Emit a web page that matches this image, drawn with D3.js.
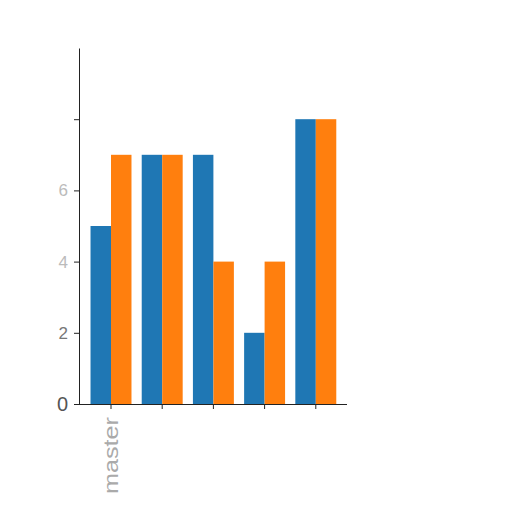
<!DOCTYPE html>
<html>
<head>
<meta charset="utf-8">
<script src="https://d3js.org/d3.v7.min.js"></script>
<style>
  body { margin: 0; background: #fff; }
  svg { display: block; }
</style>
</head>
<body>
<svg class="chart" width="512" height="512"></svg>
<script>
// Chart data
var categories = ["master", "g2", "g3", "g4", "g5"];
var categoryLabels = ["master", "", "", "", ""];
var seriesNames = ["a", "b"];
var seriesA = [5, 7, 7, 2, 8];
var seriesB = [7, 7, 4, 4, 8];
var yTicks = [0, 2, 4, 6, 8];
var yTickLabels = ["0", "2", "4", "6", ""];

var colors = ["#1f77b4", "#ff7f0e"];

var svg = d3.select(".chart");

// Scales
var y = d3.scaleLinear().domain([0, 10]).range([404, 48]);
var x0 = d3.scaleBand()
    .domain(categories)
    .range([85.4, 341.4])
    .paddingInner(0.2)
    .paddingOuter(0.1);
var x1 = d3.scaleBand()
    .domain(seriesNames)
    .range([0, x0.bandwidth()]);

var rows = categories.map(function(c, i) {
    return {category: c, values: [seriesA[i], seriesB[i]]};
});

// Bars
var groups = svg.append("g")
    .selectAll("g")
    .data(rows)
    .enter()
    .append("g")
    .attr("transform", function(d) { return "translate(" + x0(d.category) + ",0)"; });

groups.selectAll("rect")
    .data(function(d) { return d.values.map(function(v, i) { return {key: seriesNames[i], value: v}; }); })
    .enter()
    .append("rect")
    .attr("x", function(d) { return x1(d.key); })
    .attr("y", function(d) { return y(d.value); })
    .attr("width", x1.bandwidth())
    .attr("height", function(d) { return y(0) - y(d.value); })
    .attr("fill", function(d, i) { return colors[i]; });

// Y axis
var yAxis = svg.append("g")
    .attr("transform", "translate(79,0)")
    .call(d3.axisLeft(y)
        .tickValues(yTicks)
        .tickFormat(function(d, i) { return yTickLabels[i]; })
        .tickSize(5)
        .tickPadding(6)
        .tickSizeOuter(0));
yAxis.select(".domain").attr("stroke", "#222");
yAxis.selectAll(".tick line").attr("stroke", "#222");
yAxis.selectAll(".tick text")
    .attr("fill", function(d) { return d === 0 ? "#555" : (d === 2 ? "#777" : "#bbb"); })
    .style("font-family", "Liberation Sans, Arial, sans-serif")
    .style("font-size", function(d) { return d === 0 ? "20px" : "17px"; });

// X axis
var xAxis = svg.append("g")
    .attr("transform", "translate(0,404)")
    .call(d3.axisBottom(x0)
        .tickFormat(function(d, i) { return categoryLabels[i]; })
        .tickSize(5)
        .tickSizeOuter(0));
xAxis.select(".domain").attr("d", "M79,0.5H347").attr("stroke", "#222");
xAxis.selectAll(".tick line").attr("stroke", "#222");
xAxis.selectAll(".tick text")
    .filter(function(d, i) { return categoryLabels[i] !== ""; })
    .attr("fill", "#aaa")
    .style("font-family", "Liberation Sans, Arial, sans-serif")
    .style("font-size", "20px")
    .attr("transform", "rotate(-90)")
    .attr("text-anchor", "end")
    .attr("x", -13)
    .attr("y", 0)
    .attr("dy", "0.35em")
    .attr("textLength", 77)
    .attr("lengthAdjust", "spacingAndGlyphs");
</script>
</body>
</html>
